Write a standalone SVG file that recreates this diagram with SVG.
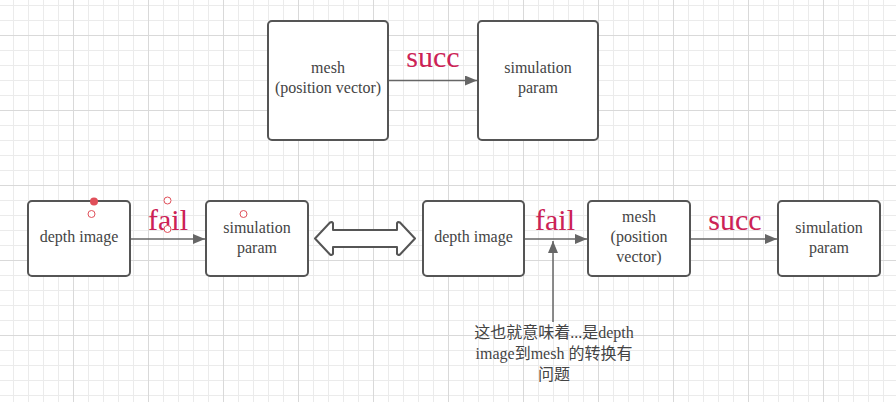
<svg xmlns="http://www.w3.org/2000/svg" width="896" height="402" viewBox="0 0 896 402">
<defs>
<pattern id="minor" x="13" y="5" width="15" height="15" patternUnits="userSpaceOnUse">
<path d="M0.5 0V15M0 0.5H15" fill="none" stroke="#ebebeb" stroke-width="1"/>
</pattern>
<pattern id="major" x="73" y="35" width="75" height="75" patternUnits="userSpaceOnUse">
<path d="M0.5 0V75M0 0.5H75" fill="none" stroke="#d9d9d9" stroke-width="1"/>
</pattern>
<marker id="ah" viewBox="0 0 12 10" refX="12" refY="5" markerWidth="12" markerHeight="10" markerUnits="userSpaceOnUse" orient="auto">
<path d="M0 0L12 5L0 10Z" fill="#666"/>
</marker>
<style>
.box{fill:#fff;stroke:#555;stroke-width:2}
.t{font-family:"Liberation Serif","Noto Sans CJK SC",serif;font-size:16px;fill:#444;text-anchor:middle}
.c{font-family:"Liberation Serif","Noto Sans CJK SC",serif;font-size:16px;fill:#444;text-anchor:middle}
.lbl{font-family:"Liberation Serif",serif;font-size:30px;fill:#cc2255;text-anchor:middle}
.con{fill:none;stroke:#666;stroke-width:1.5}
.dot{fill:#fff;stroke:#e0505a;stroke-width:1}
</style>
</defs>
<rect width="896" height="402" fill="#fff"/>
<rect width="896" height="402" fill="url(#minor)"/>
<rect width="896" height="402" fill="url(#major)"/>

<g id="connectors">
<line class="con" x1="388" y1="80.5" x2="477" y2="80.5" marker-end="url(#ah)"/>
<line class="con" x1="130" y1="239" x2="205" y2="239" marker-end="url(#ah)"/>
<line class="con" x1="524" y1="239" x2="587" y2="239" marker-end="url(#ah)"/>
<line class="con" x1="690" y1="239" x2="777" y2="239" marker-end="url(#ah)"/>
<line class="con" x1="553" y1="322" x2="553" y2="241" marker-end="url(#ah)"/>
<text class="lbl" x="433" y="67">succ</text>
<text class="lbl" x="168" y="230">fail</text>
<text class="lbl" x="555" y="230">fail</text>
<text class="lbl" x="735" y="230">succ</text>
</g>

<g id="top-mesh">
<rect class="box" x="268" y="21" width="120" height="119" rx="4"/>
<text class="t" x="328" y="73">mesh</text>
<text class="t" x="328" y="93">(position vector)</text>
</g>
<g id="top-sim">
<rect class="box" x="478" y="21" width="120" height="119" rx="4"/>
<text class="t" x="538" y="73">simulation</text>
<text class="t" x="538" y="93">param</text>
</g>

<g id="depth-a">
<rect class="box" x="28" y="201" width="102" height="75" rx="4"/>
<text class="t" x="79" y="242">depth image</text>
</g>
<g id="sim-b">
<rect class="box" x="206" y="201" width="102" height="75" rx="4"/>
<text class="t" x="257" y="233">simulation</text>
<text class="t" x="257" y="253">param</text>
</g>

<g id="double-arrow">
<path d="M315 238.5L330 222.5Q332 221.5 333 223L333 230H397L397 223Q398 221.5 400 222.5L415 238.5L400 254.5Q398 255.5 397 254L397 247H333L333 254Q332 255.5 330 254.5Z" fill="#fff" stroke="#555" stroke-width="2" stroke-linejoin="round"/>
</g>

<g id="depth-c">
<rect class="box" x="423" y="201" width="101" height="75" rx="4"/>
<text class="t" x="473.5" y="242">depth image</text>
</g>
<g id="mesh-d">
<rect class="box" x="588" y="201" width="102" height="75" rx="4"/>
<text class="t" x="639" y="222">mesh</text>
<text class="t" x="639" y="242">(position</text>
<text class="t" x="639" y="262">vector)</text>
</g>
<g id="sim-e">
<rect class="box" x="778" y="201" width="102" height="75" rx="4"/>
<text class="t" x="829" y="233">simulation</text>
<text class="t" x="829" y="253">param</text>
</g>

<g id="note">
<text class="c" x="554" y="338">这也就意味着...是depth</text>
<text class="c" x="554" y="359">image到mesh 的转换有</text>
<text class="c" x="554" y="380">问题</text>
</g>

<g id="handles">
<circle cx="94" cy="201.5" r="4" fill="#e0505a"/>
<circle class="dot" cx="91.5" cy="214" r="3.5"/>
<circle class="dot" cx="167.5" cy="200.5" r="3.5"/>
<circle class="dot" cx="167.5" cy="229" r="3.5"/>
<circle class="dot" cx="243.5" cy="214" r="3.5"/>
</g>
</svg>
